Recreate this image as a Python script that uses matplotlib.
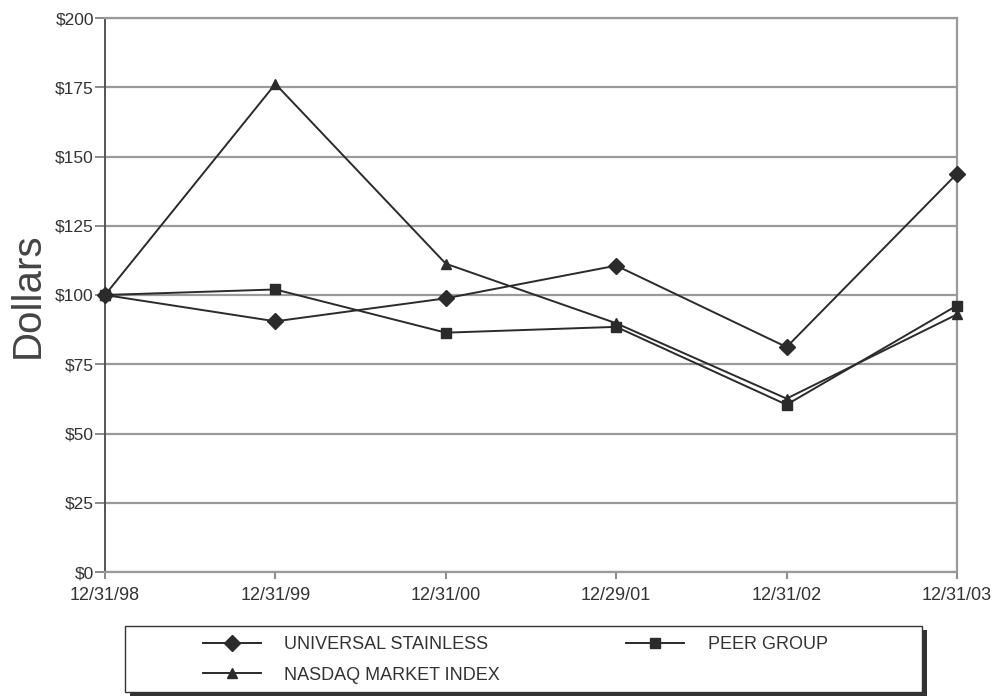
import numpy as np
import matplotlib
matplotlib.use('Agg')
import matplotlib.pyplot as plt
from matplotlib.patches import Rectangle
from matplotlib.ticker import FuncFormatter

plt.rcParams['font.family'] = ['Liberation Sans', 'DejaVu Sans']

dates = ['12/31/98', '12/31/99', '12/31/00', '12/29/01', '12/31/02', '12/31/03']
universal = [100, 90.5, 98.8, 110.6, 81.2, 143.8]
peer = [100, 102.0, 86.4, 88.5, 60.4, 96.2]
nasdaq = [100, 176.2, 111.3, 89.8, 62.6, 93.0]
y_ticks = [0, 25, 50, 75, 100, 125, 150, 175, 200]

W, H = 994, 696
fig = plt.figure(figsize=(W / 100, H / 100), dpi=100)
ax = fig.add_axes([105 / W, 1 - 572 / H, (957 - 105) / W, (572 - 18) / H])

x = np.arange(len(dates))
line_col = '#2b2b2b'
ax.plot(x, universal, color=line_col, lw=1.4, marker='D', ms=8,
        label='UNIVERSAL STAINLESS', zorder=3, clip_on=False)
ax.plot(x, nasdaq, color=line_col, lw=1.4, marker='^', ms=7,
        label='NASDAQ MARKET INDEX', zorder=3, clip_on=False)
ax.plot(x, peer, color=line_col, lw=1.4, marker='s', ms=7,
        label='PEER GROUP', zorder=3, clip_on=False)

ax.set_xlim(0, len(dates) - 1)
ax.set_ylim(0, 200)
ax.set_xticks(x)
ax.set_xticklabels(dates)
ax.set_yticks(y_ticks)
ax.yaxis.set_major_formatter(FuncFormatter(lambda v, p: '${:d}'.format(int(v))))
ax.grid(axis='y', color='#9a9a9a', lw=1.6)
ax.set_axisbelow(True)

for s in ['top', 'bottom', 'right']:
    ax.spines[s].set_color('#9a9a9a')
    ax.spines[s].set_linewidth(1.6)
ax.spines['left'].set_color('#555555')
ax.spines['left'].set_linewidth(1.4)
ax.tick_params(axis='y', length=7, width=1.2, color='#777777', labelsize=12.5, pad=1)
ax.tick_params(axis='x', length=5, width=1.2, color='#777777', labelsize=13, pad=6)
for t in ax.get_xticklabels() + ax.get_yticklabels():
    t.set_color('#333333')

ax.set_ylabel('Dollars', fontsize=29, color='#444444', labelpad=6)

# legend box with drop shadow
bx0, by0, bx1, by1 = 125, 626, 922, 692
fig.patches.append(Rectangle(((bx0 + 5) / W, 1 - (by1 + 4) / H), (bx1 - bx0) / W, (by1 - by0) / H,
                             transform=fig.transFigure, facecolor='#333333', edgecolor='none', zorder=0))
fig.patches.append(Rectangle((bx0 / W, 1 - by1 / H), (bx1 - bx0) / W, (by1 - by0) / H,
                             transform=fig.transFigure, facecolor='white', edgecolor='#333333',
                             lw=1.0, zorder=1))

handles, labels = ax.get_legend_handles_labels()
leg = fig.legend(handles, labels, ncol=2, loc='upper left',
                 bbox_to_anchor=(203 / W, 1 - 636 / H), frameon=False,
                 fontsize=13, handlelength=3.2, handletextpad=1.3,
                 columnspacing=7.0, borderpad=0, labelspacing=0.75, borderaxespad=0)
leg.set_zorder(5)
for t in leg.get_texts():
    t.set_color('#333333')

fig.savefig('out.png', dpi=100)
